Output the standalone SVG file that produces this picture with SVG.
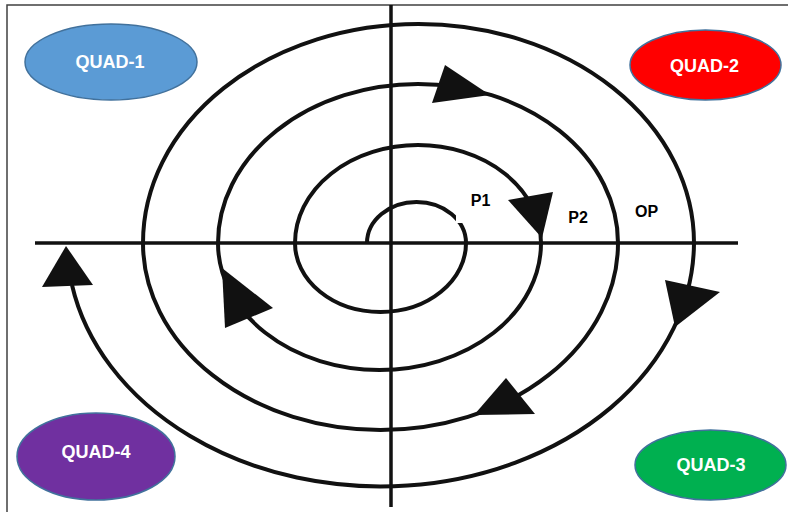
<svg xmlns="http://www.w3.org/2000/svg" width="788" height="513" viewBox="0 0 788 513">
  <style>
    .quad { stroke: #41719c; stroke-width: 1.5; }
    .qtext { font-family: "Liberation Sans", Arial, sans-serif; font-weight: bold; font-size: 18px; fill: #ffffff; text-anchor: middle; }
    .ltext { font-family: "Liberation Sans", Arial, sans-serif; font-weight: bold; font-size: 16px; fill: #000000; text-anchor: middle; }
    .axis { stroke: #111111; stroke-width: 3.5; fill: none; }
    .spiral { stroke: #111111; stroke-width: 4; fill: none; }
    .head { fill: #111111; }
  </style>
  <rect x="0" y="0" width="788" height="513" fill="#ffffff"/>
  <polyline points="7,512 7,5 788,5" fill="none" stroke="#404040" stroke-width="1.5"/>

  <g id="axes">
    <line class="axis" x1="391" y1="5" x2="391" y2="507"/>
    <line class="axis" x1="35" y1="243" x2="738" y2="243"/>
  </g>

  <g id="connectors">
    <path class="spiral" d="M 367 243 A 49.5 41 0 0 1 466 243 A 85.5 69 0 0 1 295 243 A 123 98 0 0 1 541 243 A 161.5 127 0 0 1 218 243 A 200 159 0 0 1 618 243 A 237.5 187 0 0 1 143 243 A 275.5 219 0 0 1 694 243 A 313.5 245 0 0 1 72 285"/>
    <rect x="456" y="180" width="51" height="43" fill="#ffffff"/>
    <polygon class="head" points="445,65 432,103 490,95"/>
    <polygon class="head" points="508,200 553,192 542,238"/>
    <polygon class="head" points="665,280 720,292 675,327"/>
    <polygon class="head" points="506,378 535,414 474,415"/>
    <polygon class="head" points="222,268 225,328 273,308"/>
    <polygon class="head" points="66,246 42,287 93,285"/>
  </g>

  <g id="labels">
    <text class="ltext" x="480.5" y="206">P1</text>
    <text class="ltext" x="578" y="223">P2</text>
    <text class="ltext" x="646.5" y="217">OP</text>
  </g>

  <g id="quad-1">
    <ellipse class="quad" cx="111" cy="62" rx="86" ry="38" fill="#5b9bd5"/>
    <text class="qtext" x="110" y="68">QUAD-1</text>
  </g>
  <g id="quad-2">
    <ellipse class="quad" cx="705.5" cy="65" rx="75.5" ry="35" fill="#ff0000"/>
    <text class="qtext" x="704.5" y="71.5">QUAD-2</text>
  </g>
  <g id="quad-3">
    <ellipse class="quad" cx="710.5" cy="465" rx="75.5" ry="35" fill="#00b050"/>
    <text class="qtext" x="711" y="471">QUAD-3</text>
  </g>
  <g id="quad-4">
    <ellipse class="quad" cx="96" cy="456.5" rx="79" ry="43.5" fill="#7030a0"/>
    <text class="qtext" x="96" y="458">QUAD-4</text>
  </g>
</svg>
